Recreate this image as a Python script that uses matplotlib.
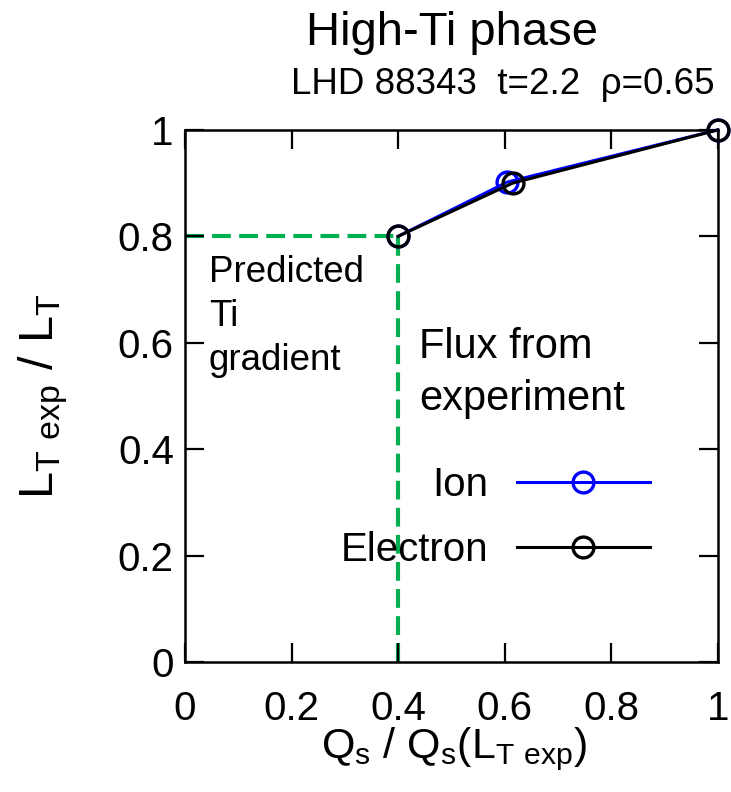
import matplotlib
matplotlib.use("Agg")
import matplotlib.pyplot as plt

plt.rcParams['font.family'] = ['Liberation Sans', 'DejaVu Sans']
plt.rcParams['mathtext.fontset'] = 'custom'
plt.rcParams['mathtext.rm'] = 'Liberation Sans'
plt.rcParams['mathtext.default'] = 'regular'

# data
ion_x = [0.4, 0.605, 1.0]
ion_y = [0.8, 0.902, 1.0]
electron_x = [0.4, 0.615, 1.0]
electron_y = [0.8, 0.9, 1.0]
predicted_x = 0.4
predicted_y = 0.8
ticks = [0, 0.2, 0.4, 0.6, 0.8, 1]
tick_labels = ["0", "0.2", "0.4", "0.6", "0.8", "1"]

fig = plt.figure(figsize=(7.31, 7.92), dpi=100)
ax = fig.add_axes([0.253, 0.164, 0.729, 0.672])

green = "#00b050"
ax.plot([0, predicted_x], [predicted_y, predicted_y], color=green, lw=3,
        dashes=(4.5, 2), zorder=1)
ax.plot([predicted_x, predicted_x], [0, predicted_y], color=green, lw=3,
        dashes=(4.5, 2), zorder=1)

ax.plot(ion_x, ion_y, color="#0000ff", lw=2.2, marker="o", ms=15,
        mfc="none", mec="#0000ff", mew=2.4, label="Ion", zorder=3,
        clip_on=False)
ax.plot(electron_x, electron_y, color="black", lw=2.2, marker="o", ms=15,
        mfc="none", mec="black", mew=2.4, label="Electron", zorder=4,
        clip_on=False)

ax.set_xlim(0, 1)
ax.set_ylim(0, 1)
ax.set_xticks(ticks)
ax.set_xticklabels(tick_labels)
ax.set_yticks(ticks)
ax.set_yticklabels(tick_labels)
ax.tick_params(direction="in", length=14, width=1.6, top=True, right=True,
               labelsize=29)
ax.tick_params(axis="x", pad=20)
ax.tick_params(axis="y", pad=8)
for s in ax.spines.values():
    s.set_linewidth(1.8)

ax.set_xlabel(r"Q$_s$ / Q$_s$(L$_{T\ exp}$)", fontsize=31)
ax.xaxis.set_label_coords(0.505, -0.118)
ax.set_ylabel(r"L$_{T\ exp}$ / L$_T$", fontsize=35)
ax.yaxis.set_label_coords(-0.215, 0.5)

ax.text(0.045, 0.765, "Predicted\nTi\ngradient", fontsize=26.5, va="top",
        ha="left", linespacing=1.33)
ax.text(0.44, 0.63, "Flux from\nexperiment", fontsize=30, va="top",
        ha="left", linespacing=1.39)

ax.legend(loc="center right", bbox_to_anchor=(0.872, 0.272), frameon=False,
          markerfirst=False, fontsize=29, handlelength=3.3,
          handletextpad=0.7, labelspacing=0.67, borderpad=0,
          borderaxespad=0)

fig.text(0.618, 0.958, "High-Ti phase", fontsize=34, ha="center",
         va="center")
fig.text(0.688, 0.893, "LHD 88343  t=2.2  \u03c1=0.65", fontsize=26.5,
         ha="center", va="center")

fig.savefig("out.png", dpi=100)
